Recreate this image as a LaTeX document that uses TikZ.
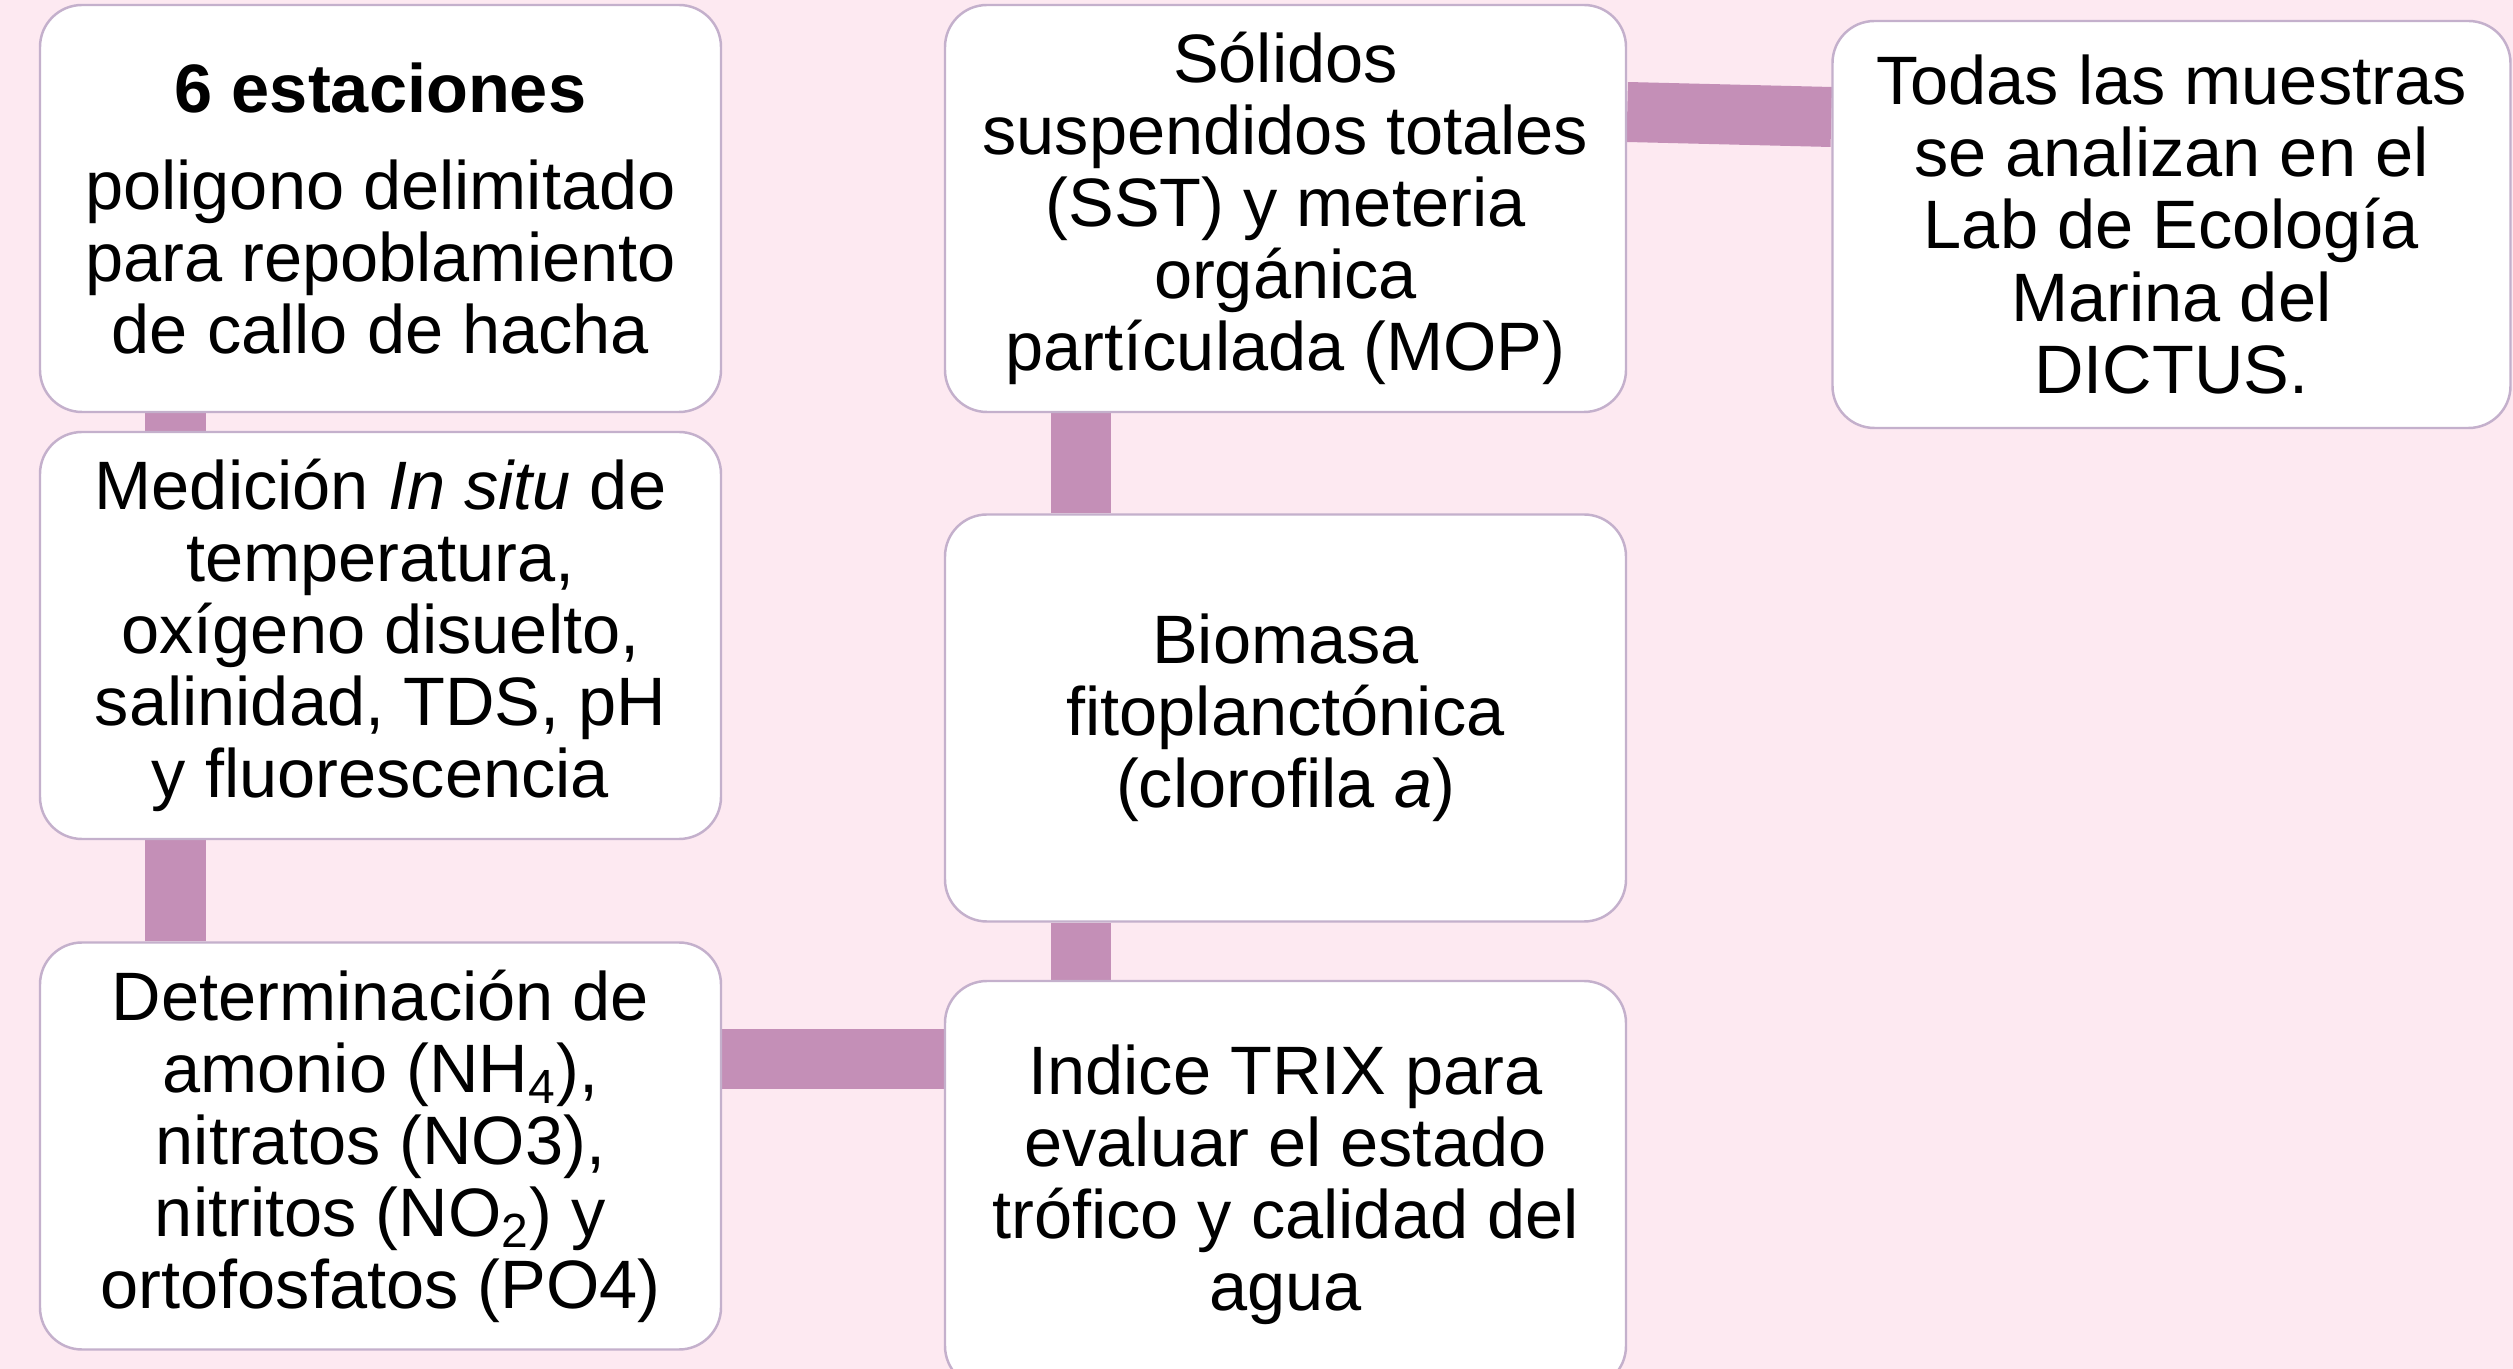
\documentclass[tikz,border=0pt]{standalone}
\usepackage{fontspec}
\setmainfont{Liberation Sans}
\usepackage{tikz}
\usetikzlibrary{positioning,backgrounds}
\usepackage{xcolor}
\definecolor{bgpink}{RGB}{253,233,241}
\definecolor{barmauve}{RGB}{196,143,183}
\definecolor{boxline}{RGB}{196,176,204}
\tikzset{
  stbox/.style={draw=boxline, fill=white, line width=0.7pt, rounded corners=0.42cm,
    minimum width=6.81cm, minimum height=4.07cm, align=center, inner sep=2pt,
    font=\fontsize{19.5}{20.5}\selectfont},
  stbar/.style={draw=barmauve, line width=0.6cm},
}

\begin{document}
\begin{tikzpicture}
  \clip (0,0) rectangle (25.13,-13.69);
  \useasboundingbox (0,0) rectangle (25.13,-13.69);

  \node[stbox] (est) at (3.805,-2.085) {\textbf{6 estaciones}\\[7pt]poligono delimitado\\para repoblamiento\\de callo de hacha};
  \node[stbox] (insitu) at (3.805,-6.355) {Medición \textit{In situ} de\\temperatura,\\oxígeno disuelto,\\salinidad, TDS, pH\\y fluorescencia};
  \node[stbox] (nutr) at (3.805,-11.46) {Determinación de\\amonio (NH\textsubscript{4}),\\nitratos (NO3),\\nitritos (NO\textsubscript{2}) y\\ortofosfatos (PO4)};
  \node[stbox] (sst) at (12.855,-2.085) {Sólidos\\suspendidos totales\\(SST) y meteria\\orgánica\\partículada (MOP)};
  \node[stbox] (chl) at (12.855,-7.18) {Biomasa\\fitoplanctónica\\(clorofila \textit{a})};
  \node[stbox] (trix) at (12.855,-11.845) {Indice TRIX para\\evaluar el estado\\trófico y calidad del\\agua};
  \node[stbox, minimum width=6.78cm] (lab) at (21.715,-2.245) {Todas las muestras\\se analizan en el\\Lab de Ecología\\Marina del\\DICTUS.};

  \begin{scope}[on background layer]
    \fill[bgpink] (0,0) rectangle (25.13,-13.69);
    \draw[stbar] ([xshift=-2.05cm]est.south) -- ([xshift=-2.05cm]insitu.north);
    \draw[stbar] ([xshift=-2.05cm]insitu.south) -- ([xshift=-2.05cm]nutr.north);
    \draw[stbar] ([yshift=0.865cm]nutr.east) -- ([yshift=0.865cm]nutr.east -| trix.west);
    \draw[stbar] ([xshift=-2.045cm]trix.north) -- ([xshift=-2.045cm]chl.south);
    \draw[stbar] ([xshift=-2.045cm]chl.north) -- ([xshift=-2.045cm]sst.south);
    \draw[stbar] ([yshift=0.965cm]sst.east) -- ([yshift=1.075cm]lab.west);
  \end{scope}
\end{tikzpicture}
\end{document}
